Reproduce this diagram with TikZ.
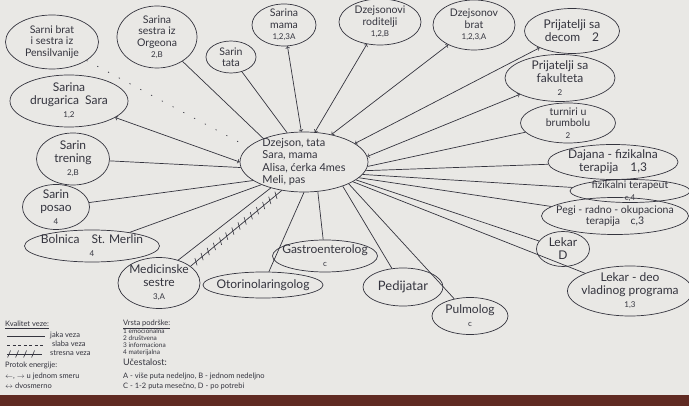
\documentclass[tikz,border=0pt]{standalone}
\usepackage{fontspec}
\setmainfont{Lato}
\usepackage{tikz}
\usetikzlibrary{shapes.geometric,decorations.markings}
\definecolor{paper}{RGB}{233,232,229}
\definecolor{ink}{RGB}{52,52,62}
\definecolor{stol}{RGB}{96,42,34}
\newcommand{\nr}[1]{{\fontsize{8}{9}\selectfont #1}}
\tikzset{
  el/.style 2 args={ellipse, draw=ink, line width=0.7pt, minimum width=#1pt, minimum height=#2pt, inner sep=0pt},
  txt/.style={align=center, text=ink, font=\fontsize{12}{13}\selectfont, inner sep=0pt},
  mali/.style={txt, font=\fontsize{10.5}{11.5}\selectfont},
  veza/.style={draw=ink, line width=0.7pt},
  slaba/.style={veza, dash pattern=on 1.2pt off 11pt},
  stresna/.style={veza, postaction={decorate}, decoration={markings, mark=between positions 0.06 and 0.96 step 8pt with {\draw[ink, line width=0.6pt] (-1.5pt,-3.5pt) -- (1.5pt,3.5pt);}}},
  leg/.style={anchor=base west, text=ink, font=\fontsize{7.5}{8}\selectfont, inner sep=0pt},
  legm/.style={leg, font=\fontsize{6.5}{7}\selectfont}
}

\begin{document}
\begin{tikzpicture}[x=1pt, y=-1pt]
                \fill [paper] (0,0) rectangle (689,406);
                \fill [stol] (0,395) rectangle (689,406);
                \useasboundingbox (0,0) rectangle (689,406);

                \node [el={128}{60}, label={[txt, align=left, font=\fontsize{11}{12.5}\selectfont]center:{Dzejson, tata\\ Sara, mama\\ Alisa, ćerka 4mes\\ Meli, pas}}] (porodica) at (304,162) {};

                \node [el={93}{54}, label={[mali]center:{Sarni brat\\ i sestra iz\\ Pensilvanije}}] (pens) at (52,42) {};
                \node [el={80}{62}, label={[mali]center:{Sarina\\ sestra iz\\ Orgeona\\ \nr{2,B}}}] (sestra) at (157,37) {};
                \node [el={50}{32}, label={[mali]center:{Sarin\\ tata}}] (tata) at (231,57) {};
                \node [el={64}{42}, label={[mali]center:{Sarina\\ mama\\ \nr{1,2,3A}}}] (mama) at (284,25) {};
                \node [el={82}{46}, label={[mali]center:{Dzejsonovi\\ roditelji\\ \nr{1,2,B}}}] (rod) at (380,22) {};
                \node [el={82}{50}, label={[mali]center:{Dzejsonov\\ brat\\ \nr{1,2,3,A}}}] (dbrat) at (474,25) {};
                \node [el={95}{45}, label={[txt]center:{Prijatelji sa\\ decom\quad 2}}] (pdec) at (572,31) {};
                \node [el={110}{47}, label={[txt]center:{Prijatelji sa\\ fakulteta\\ \nr{2}}}] (pfak) at (560,78) {};
                \node [el={95}{40}, label={[mali]center:{turniri u\\ brumbolu\\ \nr{2}}}] (turn) at (568,123) {};
                \node [el={130}{35}, label={[txt]center:{Dajana - fizikalna\\ terapija\quad 1,3}}] (daj) at (613,162) {};
                \node [el={120}{23}, label={[mali]center:{fizikalni terapeut\\ \nr{c,4}}}] (fiz) at (630,191) {};
                \node [el={147}{37}, label={[mali]center:{Pegi - radno - okupaciona\\ terapija\quad c,3}}] (pegi) at (615,216) {};
                \node [el={53}{35}, label={[txt]center:{Lekar\\ D}}] (lekd) at (563,249) {};
                \node [el={125}{50}, label={[txt]center:{Lekar - deo\\ vladinog programa\\ \nr{1,3}}}] (lekv) at (630,291) {};
                \node [el={76}{37}, label={[txt]center:{Pulmolog\\ \nr{c}}}] (pulm) at (470,316) {};
                \node [el={80}{38}, label={[txt, font=\fontsize{13}{14}\selectfont]center:{Pedijatar}}] (ped) at (403,287) {};
                \node [el={105}{32}, label={[txt]center:{Gastroenterolog\\ \nr{c}}}] (gast) at (325,256) {};
                \node [el={120}{26}, label={[txt]center:{Otorinolaringolog}}] (oto) at (263,285) {};
                \node [el={82}{51}, label={[txt]center:{Medicinske\\ sestre\\ \nr{3,A}}}] (med) at (159,283) {};
                \node [el={135}{32}, label={[txt]center:{Bolnica\quad St. Merlin\\ \nr{4}}}] (bol) at (92,246) {};
                \node [el={67}{45}, label={[txt]center:{Sarin\\ posao\\ \nr{4}}}] (posao) at (56,207) {};
                \node [el={73}{52}, label={[txt]center:{Sarin\\ trening\\ \nr{2,B}}}] (tren) at (73,159) {};
                \node [el={118}{52}, label={[txt]center:{Sarina\\ drugarica\ \ Sara\\ \nr{1,2}}}] (drug) at (69,101) {};

                \draw [slaba] (pens) -- (porodica.165);
                \draw [veza] (sestra) -- (porodica.150);
                \draw [veza] (tata) -- (porodica.120);
                \draw [veza,<->] (mama) -- (porodica.95);
                \draw [veza,<->] (rod) -- (porodica.70);
                \draw [veza,<->] (dbrat) -- (porodica.45);
                \draw [veza,<->] (pdec) -- (porodica.20);
                \draw [veza,<->] (pfak) -- (porodica.5);
                \draw [veza] (turn) -- (porodica.-4);
                \draw [veza] (daj) -- (porodica.-8);
                \draw [veza] (fiz) -- (porodica.-12);
                \draw [veza] (pegi) -- (porodica.-16);
                \draw [veza] (lekd) -- (porodica.-19);
                \draw [veza] (lekv) -- (porodica.-22);
                \draw [veza] (pulm) -- (porodica.-26);
                \draw [veza] (ped) -- (porodica.-32);
                \draw [veza] (gast) -- (porodica.-65);
                \draw [veza] (oto) -- (porodica.-90);
                \draw [veza] (med.50) -- (porodica.218);
                \draw [stresna] (med.28) -- (porodica.232);
                \draw [veza] (bol) -- (porodica.208);
                \draw [veza] (posao) -- (porodica.200);
                \draw [veza] (tren) -- (porodica.185);
                \draw [veza,<->] (drug) -- (porodica.180);

                \node [leg] (kval) at (5,327) {\underline{Kvalitet veze:}};
                \coordinate (j1) at (7,336);
                \coordinate (j2) at (45,336);
                \coordinate (s1) at (7,345);
                \coordinate (s2) at (45,345);
                \coordinate (t1) at (7,354);
                \coordinate (t2) at (42,354);
                \draw [veza] (j1) -- (j2);
                \draw [veza, dash pattern=on 3pt off 2.5pt] (s1) -- (s2);
                \draw [stresna] (t1) -- (t2);
                \node [leg] (jaka) at (50,338) {jaka veza};
                \node [leg] (slaba) at (52,347) {slaba veza};
                \node [leg] (stres) at (50,356) {stresna veza};
                \node [leg] (protok) at (5,368) {Protok energije:};
                \node [leg] (smer) at (5,379) {$\leftarrow$, $\rightarrow$ u jednom smeru};
                \node [leg] (dvo) at (5,389) {$\leftrightarrow$ dvosmerno};

                \node [leg] (vrsta) at (123,326) {\underline{Vrsta podrške:}};
                \node [legm] (p1) at (123,333.5) {1 emocionalna};
                \node [legm] (p2) at (123,340.5) {2 društvena};
                \node [legm] (p3) at (123,347.5) {3 informaciona};
                \node [legm] (p4) at (123,354.5) {4 materijalna};
                \node [leg, font=\fontsize{9}{10}\selectfont] (uces) at (123,366) {Učestalost:};
                \node [leg] (ab) at (123,379) {A - više puta nedeljno, B - jednom nedeljno};
                \node [leg] (cd) at (123,389) {C - 1-2 puta mesečno, D - po potrebi};
            \end{tikzpicture}
\end{document}
